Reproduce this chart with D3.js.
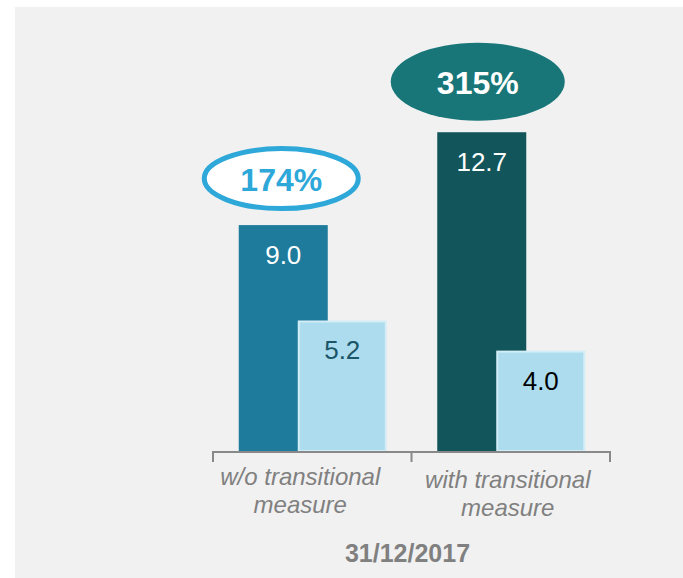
<!DOCTYPE html>
<meta charset="utf-8">
<style>
  body { margin: 0; background: #fff; }
  text { font-family: "Liberation Sans", Arial, sans-serif; }
</style>
<body>
<div id="chart"></div>
<script src="https://cdn.jsdelivr.net/npm/d3@7"></script>
<script>
// data
var categories = ["w/o transitional measure", "with transitional measure"];
var categoryLines = [["w/o transitional", "measure"], ["with transitional", "measure"]];
var seriesA = [9.0, 12.7];   // dark bars
var seriesB = [5.2, 4.0];    // light bars
var ratios = ["174%", "315%"];
var dateLabel = "31/12/2017";

var width = 683, height = 578;

var svg = d3.select("#chart").append("svg")
    .attr("width", width)
    .attr("height", height);

// grey panel
svg.append("rect")
    .attr("x", 15).attr("y", 7)
    .attr("width", width - 15).attr("height", height - 7)
    .attr("fill", "#f1f1f1");

var x = d3.scaleBand().domain(categories).range([213, 610]);
var sub = d3.scalePoint().domain(["a", "b"]).range([-29, 30]);
var y = d3.scaleLinear().domain([0, 18]).range([451, 451 - 25.1 * 18]);
var barW = 89;

var darkColors = ["#1f7b9c", "#12555a"];
var labelColorsB = ["#1b5568", "#000000"];

var groups = svg.selectAll(".grp")
    .data(categories)
  .enter().append("g")
    .attr("class", "grp")
    .attr("transform", function(d) { return "translate(" + (x(d) + x.bandwidth() / 2) + ",0)"; });

// dark bars
groups.append("rect")
    .attr("x", sub("a") - barW / 2)
    .attr("y", function(d, i) { return y(seriesA[i]); })
    .attr("width", barW)
    .attr("height", function(d, i) { return y(0) - y(seriesA[i]); })
    .attr("fill", function(d, i) { return darkColors[i]; });

groups.append("text")
    .attr("x", sub("a"))
    .attr("y", function(d, i) { return y(seriesA[i]) + 39; })
    .attr("text-anchor", "middle")
    .attr("font-size", 26)
    .attr("fill", "#fff")
    .text(function(d, i) { return seriesA[i].toFixed(1); });

// light bars
groups.append("rect")
    .attr("x", sub("b") - barW / 2 + 1)
    .attr("y", function(d, i) { return y(seriesB[i]) + 1; })
    .attr("width", barW - 2)
    .attr("height", function(d, i) { return y(0) - y(seriesB[i]) - 1; })
    .attr("fill", "#acdcee")
    .attr("stroke", "#d3edf7")
    .attr("stroke-width", 2);

groups.append("text")
    .attr("x", sub("b"))
    .attr("y", function(d, i) { return y(seriesB[i]) + 39; })
    .attr("text-anchor", "middle")
    .attr("font-size", 26)
    .attr("fill", function(d, i) { return labelColorsB[i]; })
    .text(function(d, i) { return seriesB[i].toFixed(1); });

// ratio ellipses
var ell = [
  {rx: 77, ry: 30, fill: "#fff", stroke: "#2ea7d9", sw: 5, text: "#2ea7d9", dx: -2, gap: 46.5},
  {rx: 87, ry: 39, fill: "#187678", stroke: "none", sw: 0, text: "#fff", dx: -4, gap: 50.5}
];
groups.append("ellipse")
    .attr("cx", function(d, i) { return sub("a") + ell[i].dx; })
    .attr("cy", function(d, i) { return y(seriesA[i]) - ell[i].gap; })
    .attr("rx", function(d, i) { return ell[i].rx; })
    .attr("ry", function(d, i) { return ell[i].ry; })
    .attr("fill", function(d, i) { return ell[i].fill; })
    .attr("stroke", function(d, i) { return ell[i].stroke; })
    .attr("stroke-width", function(d, i) { return ell[i].sw; });

groups.append("text")
    .attr("x", function(d, i) { return sub("a") + ell[i].dx; })
    .attr("y", function(d, i) { return y(seriesA[i]) - ell[i].gap + 12; })
    .attr("text-anchor", "middle")
    .attr("font-size", 32)
    .attr("font-weight", "bold")
    .attr("fill", function(d, i) { return ell[i].text; })
    .text(function(d, i) { return ratios[i]; });

// axis line with bracket ticks at band edges
var x0 = x.range()[0], x1 = x.range()[1];
var edges = [x0].concat(categories.map(function(d) { return x(d) + x.bandwidth(); }));
svg.append("line")
    .attr("x1", x0).attr("x2", x1)
    .attr("y1", y(0) + 1).attr("y2", y(0) + 1)
    .attr("stroke", "#898989").attr("stroke-width", 2);
svg.selectAll(".tick")
    .data(edges)
  .enter().append("line")
    .attr("x1", function(d) { return d; }).attr("x2", function(d) { return d; })
    .attr("y1", y(0)).attr("y2", y(0) + 11)
    .attr("stroke", "#898989").attr("stroke-width", 2);

// category labels
var catOff = [{dx: -12, dy: 0}, {dx: -3, dy: 3}];
groups.each(function(d, i) {
  var t = d3.select(this).append("text")
      .attr("text-anchor", "middle")
      .attr("font-size", 24)
      .attr("font-style", "italic")
      .attr("fill", "#808080");
  categoryLines[i].forEach(function(line, j) {
    t.append("tspan")
        .attr("x", catOff[i].dx)
        .attr("y", 485 + catOff[i].dy + j * 28)
        .text(line);
  });
});

svg.append("text")
    .attr("x", (x0 + x1) / 2 - 4)
    .attr("y", 562)
    .attr("text-anchor", "middle")
    .attr("font-size", 25)
    .attr("font-weight", "bold")
    .attr("fill", "#808080")
    .text(dateLabel);
</script>
</body>
